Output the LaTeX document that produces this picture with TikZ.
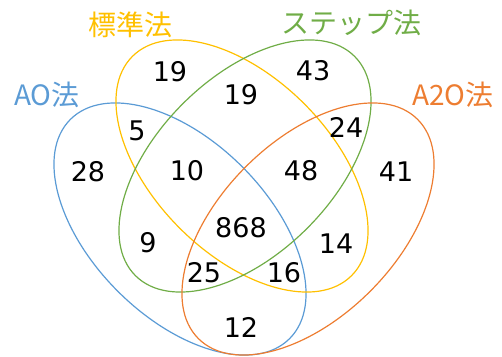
\documentclass[tikz,border=0pt]{standalone}
\usepackage{fontspec}
\setmainfont{Noto Sans CJK JP}
\newfontfamily\numfont{DejaVu Sans}
\definecolor{cblue}{HTML}{5B9BD5}
\definecolor{cyellow}{HTML}{FFC000}
\definecolor{cgreen}{HTML}{70AD47}
\definecolor{corange}{HTML}{ED7D31}
\tikzset{
  ring/.style={line width=1.2pt},
  num/.style={font=\numfont\fontsize{27}{30}\selectfont, text=black, inner sep=0pt},
  setlabel/.style={font=\fontsize{28}{31}\selectfont, inner sep=0pt}
}
\begin{document}
\begin{tikzpicture}[x=1pt,y=1pt]
\useasboundingbox (0,0) rectangle (502,356);
% ellipses (a=155, b=88)
\draw[ring,cblue,rotate around={-45:(180,127)}] (180,127) ellipse [x radius=155, y radius=88];
\draw[ring,cyellow,rotate around={-45:(242,190)}] (242,190) ellipse [x radius=155, y radius=88];
\draw[ring,cgreen,rotate around={45:(245,190)}] (245,190) ellipse [x radius=155, y radius=88];
\draw[ring,corange,rotate around={45:(308,127)}] (308,127) ellipse [x radius=155, y radius=88];
% labels
\node[setlabel,text=cblue] (lAO) at (47,261) {AO法};
\node[setlabel,text=cyellow] (lStd) at (130,331) {標準法};
\node[setlabel,text=cgreen] (lStep) at (351,333) {ステップ法};
\node[setlabel,text=corange] (lA2O) at (453,261) {A2O法};
% numbers
\node[num] (n1) at (170,284) {19};
\node[num] (n2) at (241,261) {19};
\node[num] (n3) at (313,285) {43};
\node[num] (n4) at (137,225) {5};
\node[num] (n5) at (346,229) {24};
\node[num] (n6) at (88,184) {28};
\node[num] (n7) at (187,185) {10};
\node[num] (n8) at (301,185) {48};
\node[num] (n9) at (396,184) {41};
\node[num] (n10) at (241,128) {868};
\node[num] (n11) at (148,113) {9};
\node[num] (n12) at (336,112) {14};
\node[num] (n13) at (204,83) {25};
\node[num] (n14) at (284,83) {16};
\node[num] (n15) at (241,29) {12};
\end{tikzpicture}
\end{document}
